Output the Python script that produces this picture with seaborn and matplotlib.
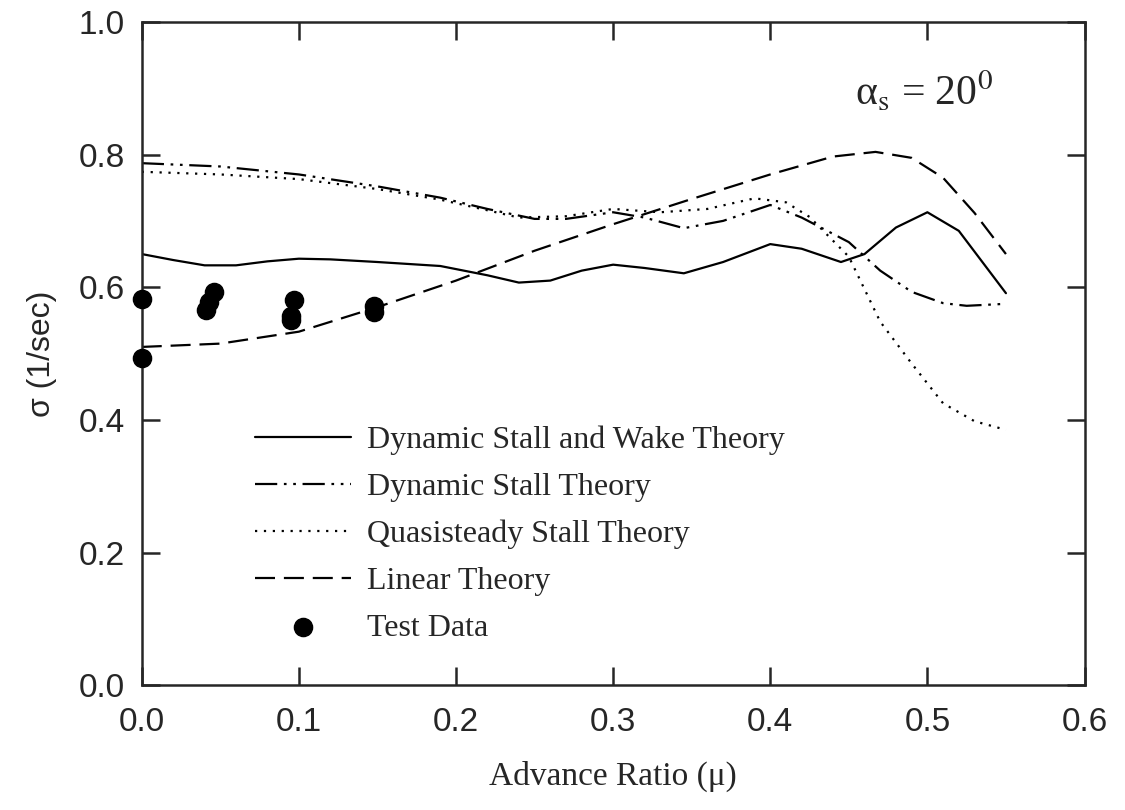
import pandas as pd
import seaborn as sns
import matplotlib.pyplot as plt

sns.set_style("ticks")
plt.rcParams['font.family'] = ['Liberation Sans', 'DejaVu Sans']
plt.rcParams['mathtext.fontset'] = 'stix'

# Dynamic Stall and Wake Theory (solid)
wake_x = [0.00, 0.02, 0.04, 0.06, 0.08, 0.10, 0.12, 0.15, 0.19, 0.22, 0.24, 0.26,
          0.28, 0.30, 0.32, 0.345, 0.37, 0.40, 0.42, 0.445, 0.46, 0.48, 0.50, 0.52, 0.55]
wake_y = [0.650, 0.641, 0.633, 0.633, 0.639, 0.643, 0.642, 0.638, 0.632, 0.618, 0.607, 0.610,
          0.625, 0.634, 0.629, 0.621, 0.638, 0.665, 0.658, 0.638, 0.650, 0.690, 0.713, 0.685, 0.591]

# Dynamic Stall Theory (dash-dot-dot)
dyn_x = [0.00, 0.05, 0.10, 0.15, 0.19, 0.22, 0.25, 0.27, 0.30, 0.32, 0.345, 0.37,
         0.40, 0.42, 0.45, 0.47, 0.49, 0.51, 0.525, 0.55]
dyn_y = [0.787, 0.782, 0.770, 0.752, 0.735, 0.718, 0.703, 0.703, 0.713, 0.705, 0.689, 0.700,
         0.724, 0.705, 0.668, 0.625, 0.593, 0.576, 0.572, 0.575]

# Quasisteady Stall Theory (dotted)
quasi_x = [0.00, 0.05, 0.10, 0.15, 0.19, 0.22, 0.24, 0.27, 0.30, 0.33, 0.36, 0.39,
           0.41, 0.425, 0.45, 0.47, 0.49, 0.51, 0.53, 0.55]
quasi_y = [0.774, 0.770, 0.763, 0.748, 0.732, 0.716, 0.705, 0.707, 0.718, 0.713, 0.718, 0.734,
           0.728, 0.706, 0.646, 0.548, 0.485, 0.425, 0.398, 0.385]

# Linear Theory (dashed)
lin_x = [0.00, 0.05, 0.10, 0.15, 0.20, 0.25, 0.30, 0.35, 0.40, 0.44, 0.467, 0.49, 0.51, 0.53, 0.55]
lin_y = [0.510, 0.515, 0.533, 0.570, 0.610, 0.655, 0.695, 0.733, 0.770, 0.797, 0.804, 0.795,
         0.765, 0.712, 0.650]

# Test Data
test_x = [0.0, 0.0, 0.041, 0.043, 0.046, 0.095, 0.095, 0.097, 0.148, 0.148]
test_y = [0.583, 0.494, 0.566, 0.578, 0.593, 0.556, 0.551, 0.580, 0.572, 0.562]

serif = ['Liberation Serif', 'DejaVu Serif']

fig, ax = plt.subplots(figsize=(11.25, 8.1), dpi=100)
fig.subplots_adjust(left=0.126, right=0.964, bottom=0.154, top=0.973)

lw = 1.6
sns.lineplot(x=wake_x, y=wake_y, ax=ax, color='black', lw=lw, linestyle='-',
             label='Dynamic Stall and Wake Theory', sort=False)
sns.lineplot(x=dyn_x, y=dyn_y, ax=ax, color='black', lw=lw,
             linestyle=(0, (10, 3, 1.2, 3, 1.2, 3)),
             label='Dynamic Stall Theory', sort=False)
sns.lineplot(x=quasi_x, y=quasi_y, ax=ax, color='black', lw=lw, linestyle=(0, (1, 3)),
             label='Quasisteady Stall Theory', sort=False)
sns.lineplot(x=lin_x, y=lin_y, ax=ax, color='black', lw=lw, linestyle=(0, (9, 4)),
             label='Linear Theory', sort=False)
sns.scatterplot(x=test_x, y=test_y, ax=ax, color='black', s=170, edgecolor='black',
                label='Test Data', zorder=5, clip_on=False)

ax.set_xlim(0, 0.6)
ax.set_ylim(0, 1.0)
ax.set_xticks([0.0, 0.1, 0.2, 0.3, 0.4, 0.5, 0.6])
ax.set_yticks([0.0, 0.2, 0.4, 0.6, 0.8, 1.0])
ax.xaxis.set_major_formatter(plt.FormatStrFormatter('%.1f'))
ax.yaxis.set_major_formatter(plt.FormatStrFormatter('%.1f'))
ax.tick_params(direction='in', length=13, width=1.8, labelsize=24,
               top=True, right=True)
ax.tick_params(axis='x', pad=16)
ax.tick_params(axis='y', pad=12)
for sp in ax.spines.values():
    sp.set_linewidth(1.8)
    sp.set_visible(True)

ax.set_xlabel('Advance Ratio (\u03bc)', fontsize=24, family=serif, labelpad=16)
ax.set_ylabel('\u03c3 (1/sec)', fontsize=23, labelpad=16)

ax.text(0.83, 0.894, '\u03b1$_{\\mathrm{s}}$ = 20$^{0}$', fontsize=30, family=serif,
        ha='center', va='center', transform=ax.transAxes)

leg = ax.legend(loc='upper left', bbox_to_anchor=(0.09, 0.435), frameon=False,
                prop={'family': serif, 'size': 23}, handlelength=3.0,
                labelspacing=0.55, handletextpad=0.5)

fig.savefig('out.png', dpi=100)
